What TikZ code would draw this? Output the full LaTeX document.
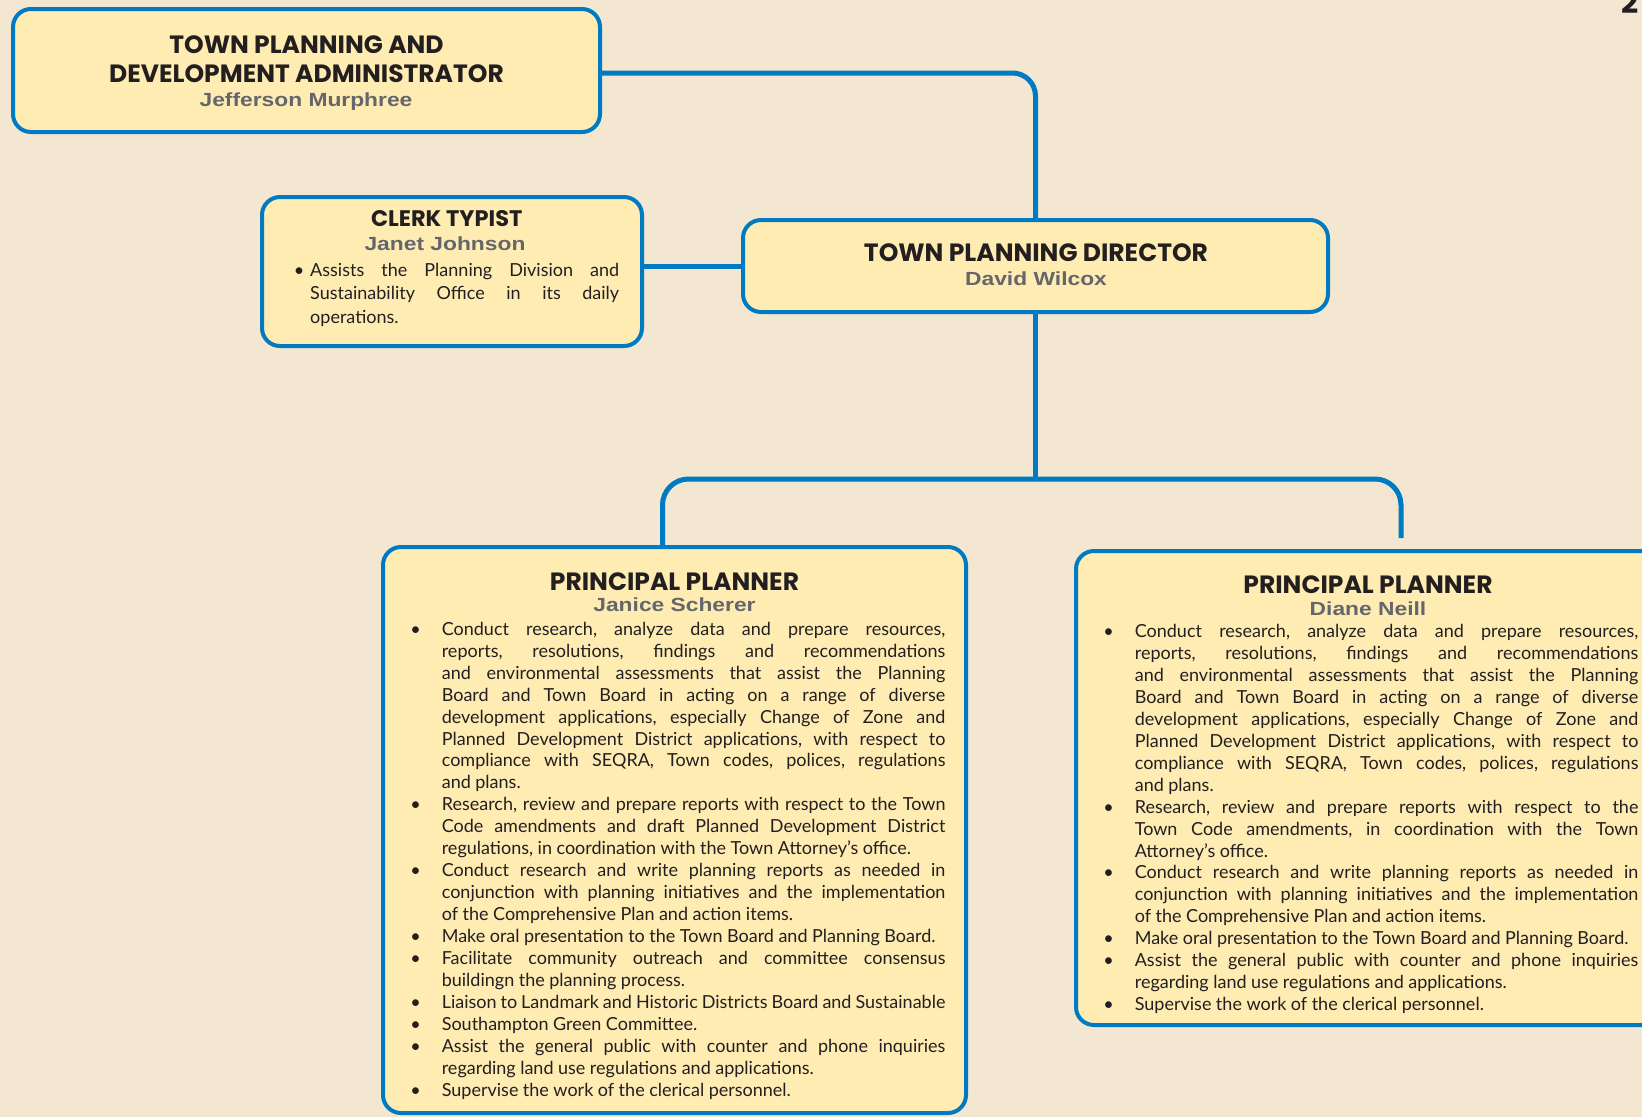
\documentclass[tikz,border=0pt]{standalone}
\usepackage{fontspec}
\usetikzlibrary{positioning}
\setmainfont{Lato}
\newfontfamily\headfont{Poppins}
\newfontfamily\namefont{Liberation Sans}[FakeStretch=1.2]
\definecolor{pagebg}{RGB}{243,231,209}
\definecolor{boxfill}{RGB}{255,236,179}
\definecolor{lineblue}{RGB}{0,122,194}
\definecolor{inkdark}{RGB}{35,31,32}
\definecolor{namegray}{RGB}{100,102,108}

\newcommand{\dutysetup}{\frenchspacing\spaceskip=.25em plus 1.5em minus .15em\relax
  \tolerance=10000\relax\hyphenpenalty=10000\relax\hbadness=10000\relax}
\newcommand{\bitem}[1]{\par\noindent\llap{\textbullet\hspace{21pt}}#1}
\newcommand{\citem}[1]{\par\noindent\llap{\textbullet\hspace{6pt}}#1}

\tikzset{
  orgbox/.style={draw=lineblue, line width=4pt, fill=boxfill, rounded corners=18pt, inner sep=0pt},
  link/.style={draw=lineblue, line width=5pt},
  boxtitle/.style={font=\headfont\bfseries\fontsize{25}{29}\selectfont, text=inkdark, anchor=base, inner sep=0pt, align=center},
  boxname/.style={font=\namefont\bfseries\fontsize{19}{22}\selectfont, text=namegray, anchor=base, inner sep=0pt},
  duties/.style={font=\fontsize{18}{21.94}\selectfont, text=inkdark, anchor=north west, inner sep=0pt, text width=503.6pt, align=justify}
}

\begin{document}
\begin{tikzpicture}[x=1pt, y=-1pt]
  \useasboundingbox (0,0) rectangle (1642,1117);
  \clip (0,0) rectangle (1642,1117);
  \fill[pagebg] (0,0) rectangle (1642,1117);

  % boxes
  \node[orgbox, minimum width=587pt, minimum height=123pt] (admin) at (306.5,70.5) {};
  \node[orgbox, minimum width=380pt, minimum height=149pt] (clerk) at (452,271.5) {};
  \node[orgbox, minimum width=585pt, minimum height=92pt] (dir) at (1035.5,266) {};
  \node[orgbox, minimum width=583pt, minimum height=566pt] (pp1) at (674.5,830) {};
  \node[orgbox, minimum width=583pt, minimum height=474pt] (pp2) at (1367.5,788) {};

  % connectors
  \coordinate (bus) at (dir.south |- 0,479);
  \coordinate (busL) at ([xshift=-12pt]pp1.north);
  \coordinate (busR) at ([xshift=33.5pt,yshift=11pt]pp2.north);
  \draw[link, rounded corners=23pt] (admin.east |- 0,73) -| (dir.north);
  \draw[link] (clerk.east |- dir.west) -- (dir.west);
  \draw[link] (dir.south) -- (bus);
  \draw[link, rounded corners=26pt] (busL) |- (bus) -| (busR);

  % administrator
  \node[boxtitle, anchor=center] (adminT) at (306.5,58.9) {TOWN PLANNING AND\\DEVELOPMENT ADMINISTRATOR};
  \node[boxname] (adminN) at (306,106) {Jefferson Murphree};

  % clerk
  \node[boxtitle, font=\headfont\bfseries\fontsize{22.5}{27}\selectfont] (clerkT) at (446.7,226.7) {CLERK TYPIST};
  \node[boxname] (clerkN) at (445,250.7) {Janet Johnson};
  \node[duties, text width=309pt, font=\fontsize{18}{23.5}\selectfont] (clerkD) at (310,252.6) {\dutysetup
    \citem{\strut Assists the Planning Division and\linebreak Sustainability Office in its daily\linebreak operations.}};

  % director
  \node[boxtitle] (dirT) at (1036,261) {TOWN PLANNING DIRECTOR};
  \node[boxname] (dirN) at (1036,285) {David Wilcox};

  % principal planners
  \node[boxtitle] (pp1T) at (674.5,590) {PRINCIPAL PLANNER};
  \node[boxname] (pp1N) at (674.5,611.7) {Janice Scherer};
  \node[duties] (pp1D) at (441.6,613.2) {\dutysetup
    \bitem{\strut Conduct research, analyze data and prepare resources,\linebreak
      reports, resolutions, findings and recommendations\linebreak
      and environmental assessments that assist the Planning\linebreak
      Board and Town Board in acting on a range of diverse\linebreak
      development applications, especially Change of Zone and\linebreak
      Planned Development District applications, with respect to\linebreak
      compliance with SEQRA, Town codes, polices, regulations\linebreak
      and plans.}
    \bitem{Research, review and prepare reports with respect to the Town\linebreak
      Code amendments and draft Planned Development District\linebreak
      regulations, in coordination with the Town Attorney’s office.}
    \bitem{Conduct research and write planning reports as needed in\linebreak
      conjunction with planning initiatives and the implementation\linebreak
      of the Comprehensive Plan and action items.}
    \bitem{Make oral presentation to the Town Board and Planning Board.}
    \bitem{Facilitate community outreach and committee consensus\linebreak
      buildingn the planning process.}
    \bitem{Liaison to Landmark and Historic Districts Board and Sustainable}
    \bitem{Southampton Green Committee.}
    \bitem{Assist the general public with counter and phone inquiries\linebreak
      regarding land use regulations and applications.}
    \bitem{Supervise the work of the clerical personnel.}};

  \node[boxtitle] (pp2T) at (1368,593.3) {PRINCIPAL PLANNER};
  \node[boxname] (pp2N) at (1368,615) {Diane Neill};
  \node[duties] (pp2D) at (1134.6,615.5) {\dutysetup
    \bitem{\strut Conduct research, analyze data and prepare resources,\linebreak
      reports, resolutions, findings and recommendations\linebreak
      and environmental assessments that assist the Planning\linebreak
      Board and Town Board in acting on a range of diverse\linebreak
      development applications, especially Change of Zone and\linebreak
      Planned Development District applications, with respect to\linebreak
      compliance with SEQRA, Town codes, polices, regulations\linebreak
      and plans.}
    \bitem{Research, review and prepare reports with respect to the\linebreak
      Town Code amendments, in coordination with the Town\linebreak
      Attorney’s office.}
    \bitem{Conduct research and write planning reports as needed in\linebreak
      conjunction with planning initiatives and the implementation\linebreak
      of the Comprehensive Plan and action items.}
    \bitem{Make oral presentation to the Town Board and Planning Board.}
    \bitem{Assist the general public with counter and phone inquiries\linebreak
      regarding land use regulations and applications.}
    \bitem{Supervise the work of the clerical personnel.}};

  % page number
  \node[font=\headfont\bfseries\fontsize{30}{30}\selectfont, text=inkdark, anchor=base, inner sep=0pt] (pageno) at (1630,13) {2};
\end{tikzpicture}
\end{document}
